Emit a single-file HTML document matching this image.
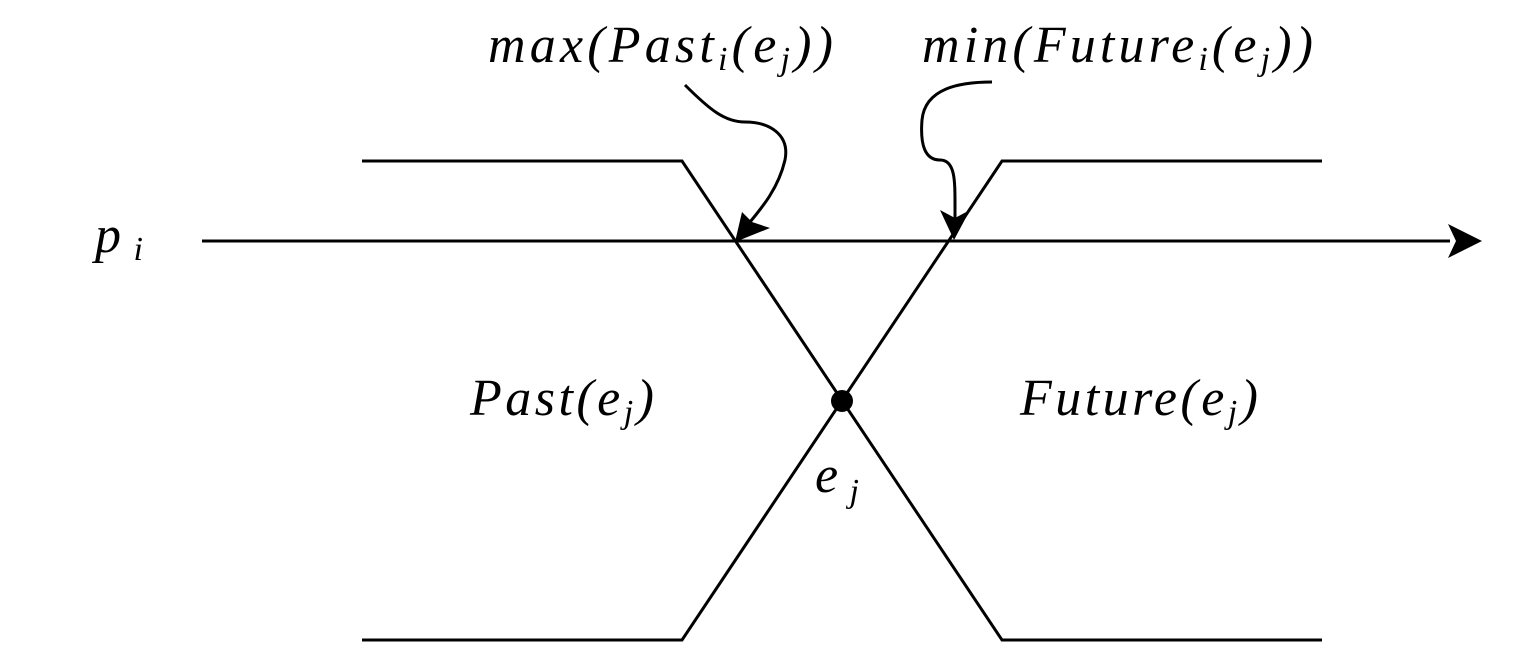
<!DOCTYPE html>
<html><head><meta charset="utf-8"><style>
html,body{margin:0;padding:0;background:#fff;}
svg{display:block;}
text{font-family:"Liberation Serif",serif;font-style:italic;fill:#000;}
</style></head><body>
<svg width="1520" height="652" viewBox="0 0 1520 652">
<g stroke="#000" stroke-width="3" fill="none">
<polyline points="362,161 682,161 1002,640 1322,640"/>
<polyline points="362,640 682,640 1002,161 1322,161"/>
<line x1="202" y1="241" x2="1450" y2="241"/>
<path d="M685,85 C710,110 725,122 745,122 C770,122 790,135 785,160 C778,190 760,210 745,228"/>
<path d="M992,82 C960,82 925,88 922,120 C920,145 925,160 940,160 C955,160 955,180 955,205 L955,218"/>
</g>
<polygon points="1448,224 1482,241 1448,258 1456,241"/>
<polygon points="735,242 742,212 752,222 770,228"/>
<polygon points="954,240 940,210 955,218 970,210"/>
<circle cx="842" cy="401" r="11" fill="#000"/>
<text x="488" y="62" font-size="52" textLength="345" lengthAdjust="spacing">max(Past<tspan font-size="34" dy="8">i</tspan><tspan dy="-8">(e</tspan><tspan font-size="34" dy="8">j</tspan><tspan dy="-8">))</tspan></text>
<text x="922" y="62" font-size="52" textLength="391" lengthAdjust="spacing">min(Future<tspan font-size="34" dy="8">i</tspan><tspan dy="-8">(e</tspan><tspan font-size="34" dy="8">j</tspan><tspan dy="-8">))</tspan></text>
<text x="95" y="252" font-size="52" textLength="48" lengthAdjust="spacing">p<tspan font-size="34" dy="8">i</tspan></text>
<text x="470" y="415" font-size="52" textLength="184" lengthAdjust="spacing">Past(e<tspan font-size="34" dy="8">j</tspan><tspan dy="-8">)</tspan></text>
<text x="1020" y="415" font-size="52" textLength="238" lengthAdjust="spacing">Future(e<tspan font-size="34" dy="8">j</tspan><tspan dy="-8">)</tspan></text>
<text x="815" y="492" font-size="52" textLength="44" lengthAdjust="spacing">e<tspan font-size="34" dy="10">j</tspan></text>
</svg>
</body></html>
